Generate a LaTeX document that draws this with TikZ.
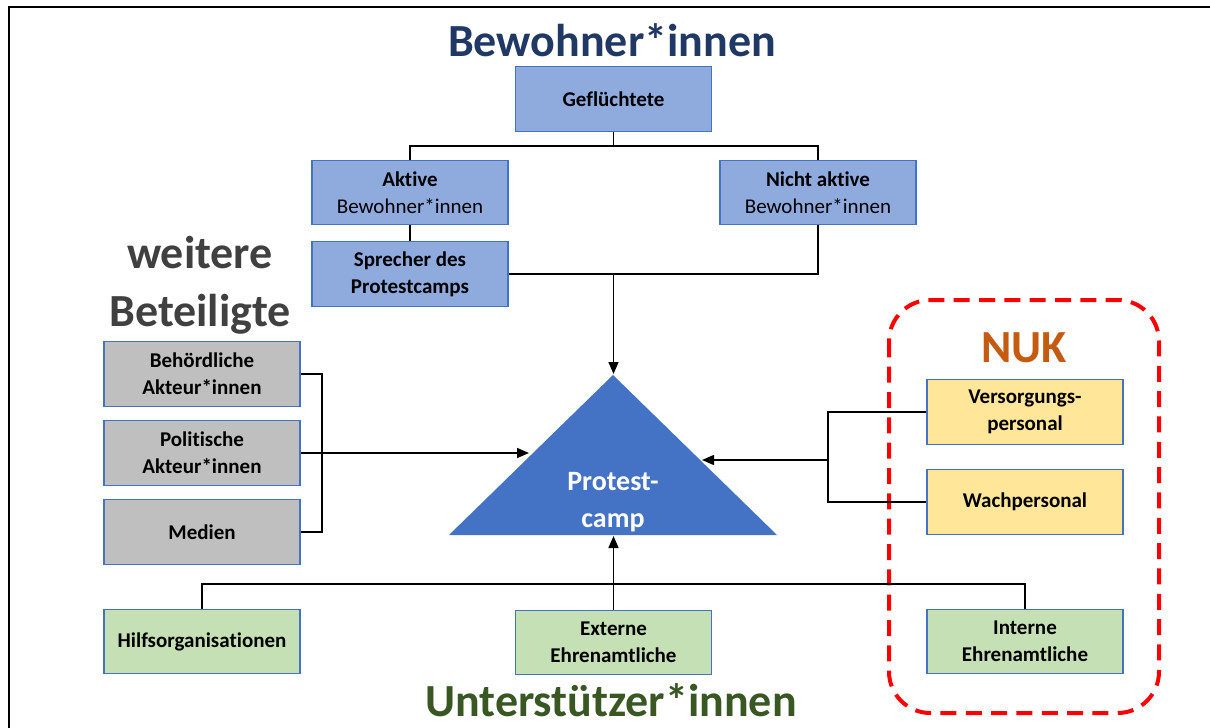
\documentclass[tikz,border=0pt]{standalone}
\usepackage{fontspec}
\setmainfont{Carlito}[Ligatures={NoCommon}]
\usetikzlibrary{arrows.meta}
\definecolor{bluebox}{HTML}{8FAADC}
\definecolor{boxborder}{HTML}{4472C4}
\definecolor{greybox}{HTML}{BFBFBF}
\definecolor{yellowbox}{HTML}{FFE699}
\definecolor{greenbox}{HTML}{C5E0B4}
\definecolor{trifill}{HTML}{4472C4}
\definecolor{titleblue}{HTML}{203864}
\definecolor{titlegrey}{HTML}{404040}
\definecolor{titlegreen}{HTML}{385723}
\definecolor{nukorange}{HTML}{C55A11}
\definecolor{nukred}{HTML}{FF0000}
\tikzset{
  box/.style={draw=boxborder, line width=0.8pt, minimum width=147pt, minimum height=48.5pt,
    inner sep=0pt, align=center, font=\bfseries\fontsize{15.75}{20.25}\selectfont},
  bluebx/.style={box, fill=bluebox},
  greybx/.style={box, fill=greybox},
  yellowbx/.style={box, fill=yellowbox},
  greenbx/.style={box, fill=greenbox},
  conn/.style={line width=1.2pt, black},
  arr/.style={conn, -{Triangle[length=9pt,width=7.5pt]}},
  titletext/.style={anchor=base, inner sep=0pt, font=\bfseries\fontsize{34.5}{40}\selectfont},
  nukline/.style={draw=nukred, line width=3pt, dash pattern=on 12pt off 7pt, rounded corners=31pt}
}
\begin{document}
\begin{tikzpicture}[x=0.75pt,y=-0.75pt]
\useasboundingbox (0,0) rectangle (1210,728);
% frame
\draw[line width=1.5pt] (9,730) -- (9,7) -- (1212,7);

% titles
\node[titletext, text=titleblue] (tBew) at (612,56) {Bewohner*innen};
\node[titletext, text=titlegrey] (tWei) at (200,268) {weitere};
\node[titletext, text=titlegrey] (tBet) at (200,326) {Beteiligte};
\node[titletext, text=nukorange] (tNuk) at (1024,362) {NUK};
\node[titletext, text=titlegreen] (tUnt) at (611,716) {Unterstützer*innen};

% NUK dashed frame
\draw[nukline] (889,300) rectangle (1159,713);

% top boxes
\node[bluebx] (gef) at (613.5,99) {Geflüchtete};
\node[bluebx] (akt) at (410,192.5) {Aktive\\\mdseries Bewohner*innen};
\node[bluebx] (nakt) at (818,192.5) {Nicht aktive\\\mdseries Bewohner*innen};
\node[bluebx] (spr) at (410,274) {Sprecher des\\Protestcamps};

% left boxes
\node[greybx] (beh) at (202,374) {Behördliche\\Akteur*innen};
\node[greybx] (pol) at (202,453) {Politische\\Akteur*innen};
\node[greybx] (med) at (202,532) {Medien};

% right boxes
\node[yellowbx] (ver) at (1025,412) {Versorgungs-\\personal};
\node[yellowbx] (wach) at (1025,502) {Wachpersonal};

% bottom boxes
\node[greenbx] (hilf) at (202,641.5) {Hilfsorganisationen};
\node[greenbx] (ext) at (613.5,642.5) {Externe\\Ehrenamtliche};
\node[greenbx] (int) at (1025,641.5) {Interne\\Ehrenamtliche};

% triangle
\coordinate (apex) at (613,375);
\coordinate (bl) at (449,535);
\coordinate (br) at (777,535);
\fill[trifill] (apex) -- (br) -- (bl) -- cycle;
\node[text=white, align=center, inner sep=0pt, font=\bfseries\fontsize{21}{28}\selectfont] (camp) at (613,502) {Protest-\\camp};

% connector points
\coordinate (j1) at (613.5,146);
\coordinate (j2) at (613.5,274);
\coordinate (tapex) at (613.5,374);
\coordinate (bL) at (322,374);
\coordinate (tL) at (529,453);
\coordinate (bR) at (828,412);
\coordinate (bRm) at (828,460);
\coordinate (tR) at (702,460);
\coordinate (j3) at (613.5,584);
\coordinate (tB) at (613.5,536);

% connectors
\draw[conn] (gef.south) -- (j1);
\draw[conn] (akt.north) |- (j1) -| (nakt.north);
\draw[conn] (akt.south) -- (spr.north);
\draw[conn] (spr.east) -| (nakt.south);
\draw[arr] (j2) -- (tapex);

\draw[conn] (beh.east) -- (bL) |- (med.east);
\draw[arr] (pol.east) -- (tL);

\draw[conn] (ver.west) -- (bR) |- (wach.west);
\draw[arr] (bRm) -- (tR);

\draw[conn] (hilf.north) |- (j3) -| (int.north);
\draw[arr] (ext.north) -- (tB);
\end{tikzpicture}
\end{document}
